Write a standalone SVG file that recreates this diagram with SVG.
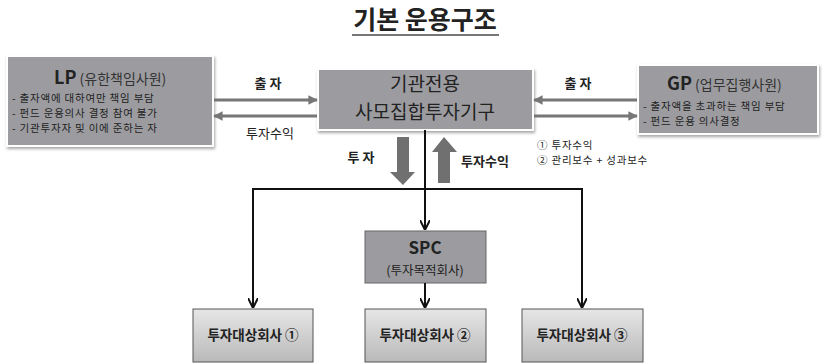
<svg xmlns="http://www.w3.org/2000/svg" width="824" height="364" viewBox="0 0 824 364">
<defs>
<style>
text{font-family:"Noto Sans CJK KR","Noto Sans",sans-serif;fill:#222}
.gbox{fill:#9c9ca0;stroke:#fff;stroke-width:2}
.b{font-weight:bold}
.s{font-size:10.5px;letter-spacing:0.8px}
.m{font-size:13px}
.line{stroke:#111;stroke-width:2;fill:none}
.garr{stroke:#777;stroke-width:3;fill:none}
.blk{fill:#707070}
</style>
<filter id="sh" x="-10%" y="-10%" width="120%" height="130%">
<feDropShadow dx="1" dy="2" stdDeviation="1.5" flood-color="#000" flood-opacity="0.35"/>
</filter>
<linearGradient id="lg" x1="0" y1="0" x2="0" y2="1">
<stop offset="0" stop-color="#e6e6e6"/>
<stop offset="1" stop-color="#b9b9b9"/>
</linearGradient>
<marker id="ga" viewBox="0 0 10 10" refX="9" refY="5" markerWidth="3.2" markerHeight="3.2" orient="auto">
<path d="M0,0 L10,5 L0,10 z" fill="#777"/>
</marker>
<marker id="ba" viewBox="0 0 10 10" refX="9" refY="5" markerWidth="5" markerHeight="5" orient="auto">
<path d="M0,0 L10,5 L0,10" fill="none" stroke="#111" stroke-width="2"/>
</marker>
</defs>

<g id="title">
<text x="425" y="29" text-anchor="middle" font-size="25" class="b">기본 운용구조</text>
<line x1="352" y1="35" x2="499" y2="35" stroke="#777" stroke-width="2"/>
</g>

<g id="lp">
<rect class="gbox" x="7" y="56" width="206" height="90" filter="url(#sh)"/>
<text x="54" y="84"><tspan class="b" font-size="18">LP</tspan><tspan font-size="14" fill="#333"> (유한책임사원)</tspan></text>
<text class="s" x="12" y="102">- 출자액에 대하여만 책임 부담</text>
<text class="s" x="12" y="117">- 펀드 운용의사 결정 참여 불가</text>
<text class="s" x="12" y="132">- 기관투자자 및 이에 준하는 자</text>
</g>

<g id="fund">
<rect class="gbox" x="318" y="69" width="215" height="61" filter="url(#sh)"/>
<text x="425" y="91" text-anchor="middle" font-size="19">기관전용</text>
<text x="425" y="119" text-anchor="middle" font-size="19">사모집합투자기구</text>
</g>

<g id="gp">
<rect class="gbox" x="638" y="65" width="180" height="69" filter="url(#sh)"/>
<text x="667" y="90"><tspan class="b" font-size="18">GP</tspan><tspan font-size="14" fill="#333"> (업무집행사원)</tspan></text>
<text class="s" x="643" y="110">- 출자액을 초과하는 책임 부담</text>
<text class="s" x="643" y="125">- 펀드 운용 의사결정</text>
</g>

<g id="spc">
<rect x="365" y="231" width="121" height="52" fill="#9c9ca0" stroke="#666" stroke-width="1"/>
<text x="425" y="254" text-anchor="middle" font-size="17" class="b">SPC</text>
<text x="425" y="275" text-anchor="middle" font-size="12.5" fill="#333">(투자목적회사)</text>
</g>

<g id="t1">
<rect x="193" y="309" width="120" height="53" fill="url(#lg)" stroke="#555" stroke-width="1"/>
<text x="253" y="340" text-anchor="middle" font-size="13.5" class="b">투자대상회사 ①</text>
</g>
<g id="t2">
<rect x="365" y="309" width="121" height="53" fill="url(#lg)" stroke="#555" stroke-width="1"/>
<text x="425" y="340" text-anchor="middle" font-size="13.5" class="b">투자대상회사 ②</text>
</g>
<g id="t3">
<rect x="522" y="309" width="121" height="53" fill="url(#lg)" stroke="#555" stroke-width="1"/>
<text x="582" y="340" text-anchor="middle" font-size="13.5" class="b">투자대상회사 ③</text>
</g>

<g id="connectors">
<line class="garr" x1="214" y1="100" x2="317" y2="100" marker-end="url(#ga)"/>
<line class="garr" x1="317" y1="116" x2="214" y2="116" marker-end="url(#ga)"/>
<line class="garr" x1="637" y1="100" x2="534" y2="100" marker-end="url(#ga)"/>
<line class="garr" x1="534" y1="116" x2="637" y2="116" marker-end="url(#ga)"/>
<text x="268" y="88" text-anchor="middle" class="m b">출 자</text>
<text x="270" y="138" text-anchor="middle" class="m">투자수익</text>
<text x="578" y="88" text-anchor="middle" class="m b">출 자</text>
<text class="s" x="537" y="149">① 투자수익</text>
<text class="s" x="537" y="164">② 관리보수 + 성과보수</text>

<path class="blk" d="M397,137 L409,137 L409,172 L415,172 L403,185 L390,172 L397,172 z"/>
<path class="blk" d="M438,183 L450,183 L450,152 L457,152 L444,137 L432,152 L438,152 z"/>
<text x="361" y="162" text-anchor="middle" class="m b">투 자</text>
<text x="485" y="166" text-anchor="middle" class="m b">투자수익</text>

<line class="line" x1="425" y1="130" x2="425" y2="229" marker-end="url(#ba)"/>
<polyline class="line" points="253,307 253,189 582,189 582,307" marker-end="url(#ba)"/>
<line class="line" x1="253" y1="200" x2="253" y2="307" marker-end="url(#ba)"/>
<line class="line" x1="425" y1="283" x2="425" y2="307" marker-end="url(#ba)"/>
</g>
</svg>
